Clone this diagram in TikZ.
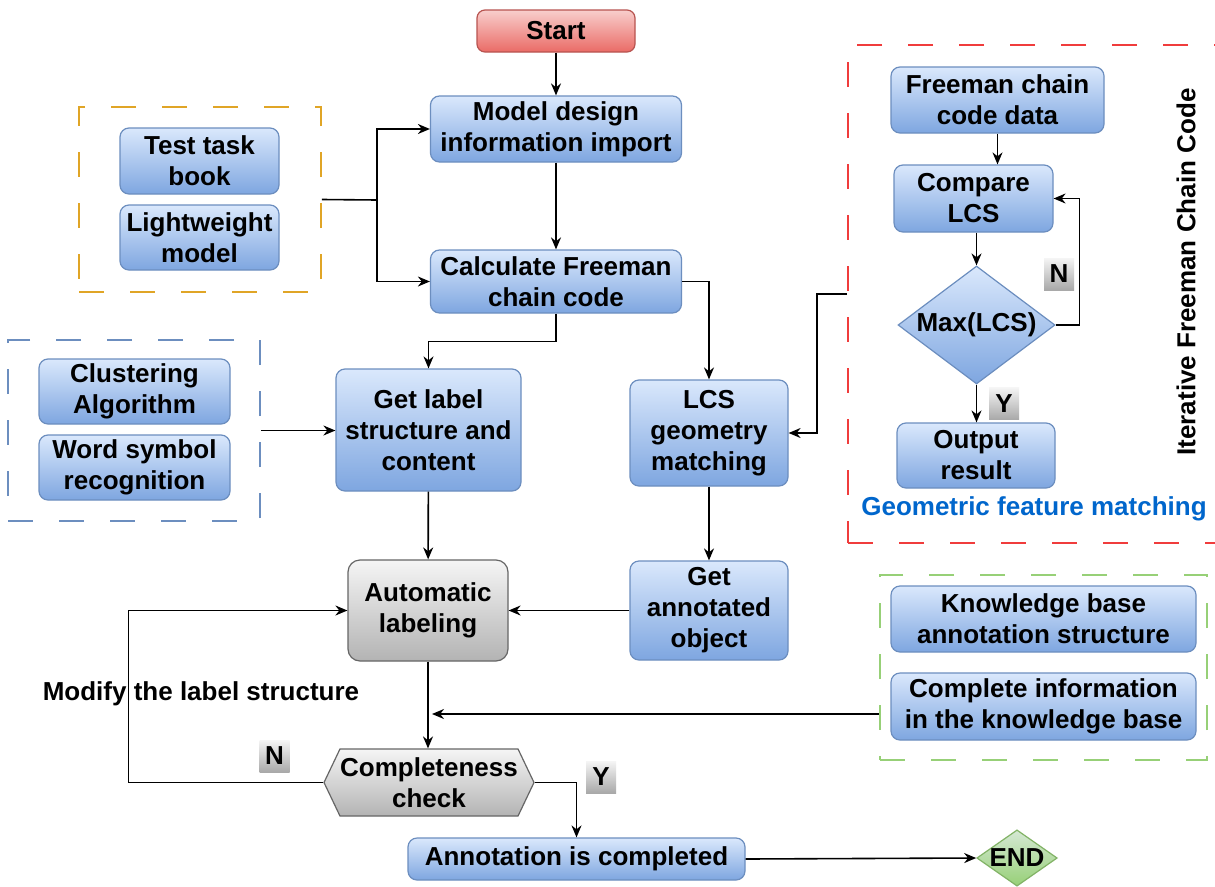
\documentclass[tikz,border=0pt]{standalone}
\usepackage{fontspec}
\setmainfont{Liberation Sans}
\usetikzlibrary{arrows.meta,shapes.geometric,shapes.symbols}

\definecolor{bluetop}{HTML}{DAE8FC}
\definecolor{bluebot}{HTML}{7EA6E0}
\definecolor{blueline}{HTML}{6C8EBF}
\definecolor{redtop}{HTML}{F8CECC}
\definecolor{redbot}{HTML}{EA6B66}
\definecolor{redline}{HTML}{B85450}
\definecolor{graytop}{HTML}{F5F5F5}
\definecolor{graybot}{HTML}{B3B3B3}
\definecolor{grayline}{HTML}{666666}
\definecolor{greentop}{HTML}{D5E8D4}
\definecolor{greenbot}{HTML}{97D077}
\definecolor{greenline}{HTML}{82B366}
\definecolor{dashyellow}{HTML}{E0A526}
\definecolor{dashblue}{HTML}{6C8EBF}
\definecolor{dashred}{HTML}{F03C3C}
\definecolor{dashgreen}{HTML}{97D077}
\definecolor{captionblue}{HTML}{0066CC}

\tikzset{
  base/.style={align=center, inner sep=0pt, line width=1.2pt,
    font=\bfseries\fontsize{26}{31}\selectfont},
  bluebox/.style={base, draw=blueline, rounded corners=9pt,
    top color=bluetop, bottom color=bluebot},
  redbox/.style={base, draw=redline, rounded corners=8pt,
    top color=redtop, bottom color=redbot},
  graybox/.style={base, draw=grayline, rounded corners=12pt,
    top color=graytop, bottom color=graybot},
  decision/.style={base, diamond, aspect=1.33, draw=blueline,
    top color=bluetop, bottom color=bluebot},
  enddiamond/.style={base, diamond, aspect=1.43, draw=greenline,
    top color=greentop, bottom color=greenbot},
  hexa/.style={base, signal, signal to=east and west, signal pointer angle=129,
    draw=grayline, top color=graytop, bottom color=graybot},
  group/.style={draw=#1, line width=1.6pt, dash pattern=on 25pt off 26pt},
  tag/.style={base, top color=graytop, bottom color=graybot!80!gray,
    minimum width=30pt, minimum height=32pt},
  link/.style={line width=1.6pt, draw=black},
  arr/.style={link, -{Stealth[length=12pt,width=10pt]}},
  sz/.style args={#1x#2}{minimum width=#1pt, minimum height=#2pt},
}

\begin{document}
\begin{tikzpicture}[x=1pt,y=-1pt]
\clip (0,0) rectangle (1215,886);
\fill[white] (0,0) rectangle (1215,886);

% dashed grouping frames
\node[group=dashyellow, sz=242x185] (ybox) at (200,199.5) {};
\node[group=dashblue, sz=252x181] (bbox) at (134,430.5) {};
\node[group=dashred, sz=380x498] (rbox) at (1038,294) {};
\node[group=dashgreen, sz=327x185] (gbox) at (1043.5,667.5) {};

% main column
\node[redbox, sz=158x42] (start) at (556,31) {Start};
\node[bluebox, sz=251x66] (model) at (556,129) {Model design\\information import};
\node[bluebox, sz=251x63] (calc) at (556,281.5) {Calculate Freeman\\chain code};
\node[bluebox, sz=185x122] (getlabel) at (428.5,430) {Get label\\structure and\\content};
\node[bluebox, sz=158x106] (lcs) at (709,433) {LCS\\geometry\\matching};
\node[bluebox, sz=158x99] (annot) at (709,610.5) {Get\\annotated\\object};
\node[graybox, sz=160x101] (auto) at (428,610.5) {Automatic\\labeling};
\node[hexa, sz=210x67] (check) at (429,782.5) {Completeness\\check};
\node[bluebox, sz=337x42] (done) at (576.5,859) {Annotation is completed};
\node[enddiamond, sz=80x56] (end) at (1017,858) {END};

% inputs on the left
\node[bluebox, sz=159x66] (test) at (199.5,161) {Test task\\book};
\node[bluebox, sz=159x65] (light) at (199.5,237.5) {Lightweight\\model};
\node[bluebox, sz=191x65] (clust) at (134.5,391.5) {Clustering\\Algorithm};
\node[bluebox, sz=191x65] (word) at (134.5,467.5) {Word symbol\\recognition};

% iterative chain code block
\node[bluebox, sz=213x66] (fdata) at (997.5,100) {Freeman chain\\code data};
\node[bluebox, sz=159x67] (cmp) at (973.5,198.5) {Compare\\LCS};
\node[decision, sz=157x118] (mx) at (976.5,325) {Max(LCS)};
\node[bluebox, sz=158x65] (out) at (976,455.5) {Output\\result};
\node[base, rotate=90] (iter) at (1186,272) {Iterative Freeman Chain Code};
\node[base, text=captionblue] (geo) at (1034,509) {Geometric feature matching};

% knowledge base block
\node[bluebox, sz=305x66] (kb) at (1043.5,619) {Knowledge base\\annotation structure};
\node[bluebox, sz=305x67] (cinfo) at (1043.5,706.5) {Complete information\\in the knowledge base};

% branch tags
\node[tag] (nloop) at (1059,274) {N};
\node[tag] (ymax) at (1004,403.5) {Y};
\node[tag] (ncheck) at (274.5,756) {N};
\node[tag] (ycheck) at (601,777) {Y};
\node[base] (modify) at (201,694) {Modify the label structure};

% connectors
\coordinate (yj) at (377,200);
\draw[arr] (start) -- (model);
\draw[link] (ybox.east) -- (yj);
\draw[arr] (yj) |- (model.west);
\draw[arr] (yj) |- (calc.west);
\draw[arr] (model) -- (calc);
\draw[arr] (calc.south) -- ++(0,28) -| (getlabel.north);
\draw[arr] (calc.east) -| (lcs.north);
\draw[arr] (bbox.east) -- (getlabel.west |- bbox.east);
\draw[arr] (rbox.west) -- ++(-30,0) |- (lcs.east);
\draw[arr] (getlabel) -- (auto);
\draw[arr] (lcs) -- (annot);
\draw[arr] (annot.west) -- (auto.east |- annot.west);
\draw[arr] (auto.south) -- (auto.south |- check.north);
\coordinate (gin) at (gbox.west |- 0,714);
\draw[arr] (gin) -- ([xshift=4pt]auto.south |- gin);
\draw[arr] (check.west) -- ++(-195,0) |- (auto.west);
\draw[arr] (check.east) -| (done.north);
\draw[arr] (done.east) -- (end.west);

\draw[arr] (fdata.south) -- (fdata.south |- cmp.north);
\draw[arr] (mx.north |- cmp.south) -- (mx.north);
\draw[arr] (mx.east) -- ++(24,0) |- (cmp.east);
\draw[arr] (mx.south) -- (out.north -| mx.south);
\end{tikzpicture}
\end{document}
